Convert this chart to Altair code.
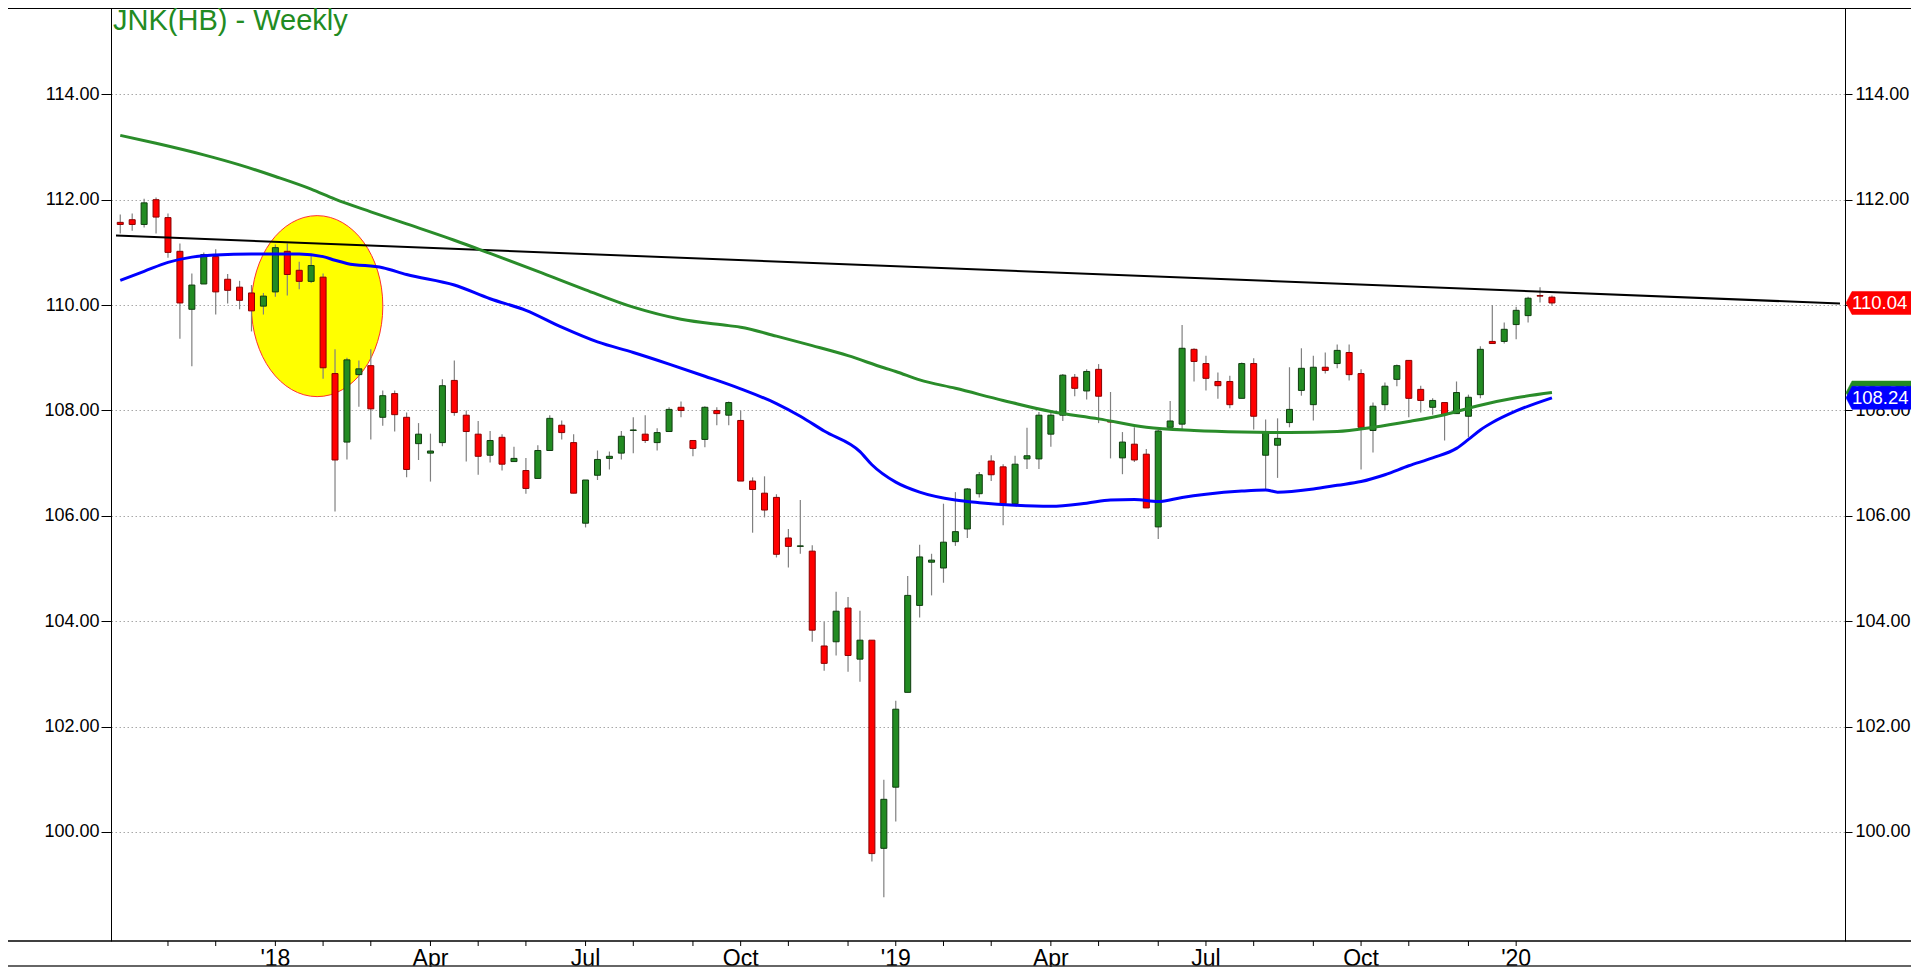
from datetime import date, datetime, timedelta, timezone

import altair as alt
import pandas as pd

# ---------------- data ----------------
first_week = date(2017, 10, 2)

opens = [111.57, 111.62, 111.53, 112.00, 111.66, 111.02, 109.92, 110.40, 110.92, 110.49,
         110.34, 110.23, 109.98, 110.25, 111.02, 110.66, 110.45, 110.53, 108.70, 107.40,
         108.68, 108.85, 107.87, 108.32, 107.87, 107.37, 107.19, 107.39, 108.57, 107.91,
         107.55, 107.15, 107.49, 107.03, 106.86, 106.71, 107.24, 107.72, 107.39, 105.86,
         106.77, 107.09, 107.19, 107.62, 107.55, 107.39, 107.60, 108.06, 107.43, 107.45,
         108.00, 107.91, 107.81, 106.66, 106.43, 106.35, 105.58, 105.42, 105.33, 103.53,
         103.61, 104.25, 103.28, 103.64, 99.69, 100.85, 102.65, 104.30, 105.12, 105.01,
         105.51, 105.75, 106.42, 107.04, 106.93, 106.23, 107.08, 107.08, 107.55, 107.91,
         108.63, 108.37, 108.78, 107.80, 107.10, 107.36, 107.17, 105.79, 107.68, 107.74,
         109.16, 108.89, 108.55, 108.55, 108.23, 108.89, 107.15, 107.34, 107.77, 108.38,
         108.11, 108.82, 108.89, 109.10, 108.70, 107.62, 108.11, 108.59, 108.95, 108.40,
         108.06, 108.15, 107.94, 107.89, 108.30, 109.31, 109.31, 109.63, 109.80, 110.18,
         110.15]

highs = [111.72, 111.74, 112.02, 112.04, 111.74, 111.17, 110.60, 111.00, 111.06, 110.59,
         110.46, 110.38, 110.23, 111.15, 111.17, 110.82, 110.93, 110.60, 109.16, 109.00,
         108.95, 109.16, 108.38, 108.38, 107.96, 107.76, 107.56, 108.59, 108.95, 108.00,
         107.80, 107.61, 107.55, 107.31, 107.10, 107.34, 107.91, 107.81, 107.55, 106.68,
         107.24, 107.22, 107.61, 107.87, 107.91, 107.66, 108.06, 108.17, 107.43, 108.08,
         108.06, 108.17, 108.00, 106.73, 106.75, 106.41, 105.75, 106.30, 105.44, 103.99,
         104.56, 104.46, 104.20, 103.64, 100.99, 102.49, 104.86, 105.45, 105.28, 106.23,
         106.45, 106.53, 106.83, 107.15, 106.98, 107.14, 107.67, 107.97, 107.97, 108.69,
         108.69, 108.78, 108.88, 108.35, 107.59, 107.68, 107.27, 107.63, 108.18, 109.62,
         109.18, 109.04, 108.72, 108.66, 108.91, 108.99, 107.83, 107.85, 108.82, 109.18,
         109.04, 109.10, 109.25, 109.25, 108.78, 108.15, 108.53, 108.87, 108.95, 108.47,
         108.23, 108.15, 108.55, 108.30, 109.22, 110.00, 109.67, 109.97, 110.16, 110.34,
         110.18]

lows = [111.36, 111.41, 111.47, 111.36, 110.90, 109.36, 108.84, 110.40, 109.82, 110.03,
        109.92, 109.50, 109.82, 110.16, 110.18, 110.30, 110.42, 108.60, 106.08, 107.07,
        108.07, 107.45, 107.71, 107.60, 106.73, 107.06, 106.65, 107.32, 107.90, 107.03,
        106.78, 107.01, 106.86, 107.03, 106.42, 106.71, 107.24, 107.45, 106.43, 105.78,
        106.68, 106.88, 107.07, 107.19, 107.38, 107.24, 107.60, 107.87, 107.13, 107.30,
        107.72, 107.72, 106.66, 105.68, 105.97, 105.21, 105.02, 105.28, 103.61, 103.06,
        103.35, 103.04, 102.85, 99.44, 98.76, 100.20, 102.65, 104.07, 104.49, 104.73,
        105.43, 105.58, 106.35, 106.66, 105.82, 106.23, 106.89, 106.89, 107.31, 107.80,
        108.27, 108.21, 107.76, 107.09, 106.79, 107.02, 106.15, 105.56, 107.68, 107.61,
        108.55, 108.38, 108.22, 108.04, 108.23, 107.64, 106.48, 106.72, 107.68, 108.28,
        107.81, 108.70, 108.80, 108.57, 106.88, 107.20, 108.00, 108.46, 107.87, 107.96,
        107.92, 107.43, 107.94, 107.49, 108.23, 109.27, 109.27, 109.35, 109.67, 110.05,
        109.99]

closes = [111.53, 111.53, 111.94, 111.67, 111.00, 110.04, 110.38, 110.96, 110.25, 110.28,
          110.09, 109.89, 110.17, 111.09, 110.58, 110.45, 110.75, 108.81, 107.06, 108.96,
          108.79, 108.03, 108.28, 107.92, 106.88, 107.55, 107.23, 108.47, 107.96, 107.60,
          107.13, 107.43, 106.98, 107.09, 106.52, 107.24, 107.85, 107.58, 106.43, 106.68,
          107.07, 107.13, 107.51, 107.63, 107.43, 107.58, 108.02, 108.00, 107.28, 108.06,
          107.94, 108.15, 106.66, 106.50, 106.11, 105.27, 105.42, 105.43, 103.83, 103.20,
          104.19, 103.35, 103.64, 99.59, 100.62, 102.33, 104.49, 105.22, 105.16, 105.50,
          105.70, 106.51, 106.78, 106.78, 106.23, 106.98, 107.14, 107.91, 107.91, 108.67,
          108.42, 108.74, 108.27, 107.78, 107.40, 107.06, 106.15, 107.61, 107.80, 109.18,
          108.93, 108.61, 108.47, 108.11, 108.89, 107.89, 107.58, 107.47, 108.02, 108.80,
          108.82, 108.76, 109.14, 108.68, 107.68, 108.08, 108.46, 108.85, 108.23, 108.19,
          108.19, 107.92, 108.34, 108.25, 109.16, 109.27, 109.54, 109.90, 110.13, 110.17,
          110.04]

# long moving average (green), read at these bar numbers
green_bar = [1, 4, 8, 11, 14, 17, 19, 22, 25, 29, 32, 36, 40, 44, 48, 52, 53, 56, 59, 62,
             65, 66, 68, 71, 75, 79, 83, 87, 91, 95, 99, 103, 106, 109, 112, 115, 118, 121]
green_ma = [113.22, 113.07, 112.85, 112.66, 112.44, 112.20, 112.01, 111.77, 111.54, 111.23,
            110.98, 110.64, 110.29, 109.96, 109.73, 109.61, 109.58, 109.41, 109.23, 109.04,
            108.81, 108.74, 108.58, 108.42, 108.19, 107.98, 107.84, 107.68, 107.62, 107.59,
            107.58, 107.60, 107.68, 107.79, 107.92, 108.10, 108.24, 108.34]

# shorter moving average (blue)
blue_bar = [1, 3, 5, 7, 9, 12, 16, 18, 19, 20, 23, 25, 29, 32, 35, 38, 41, 44, 47, 50,
            53, 56, 58, 60, 63, 64, 66, 68, 71, 73, 76, 79, 82, 84, 86, 88, 90, 92, 95, 97,
            98, 101, 103, 105, 107, 109, 111, 113, 114, 115, 116, 118, 121]
blue_ma = [110.47, 110.64, 110.81, 110.91, 110.95, 110.97, 110.97, 110.92, 110.85, 110.79,
           110.71, 110.58, 110.38, 110.12, 109.90, 109.58, 109.30, 109.10, 108.88, 108.65,
           108.41, 108.13, 107.89, 107.61, 107.22, 106.97, 106.64, 106.45, 106.30, 106.25,
           106.20, 106.18, 106.24, 106.30, 106.31, 106.27, 106.35, 106.41, 106.47, 106.49,
           106.45, 106.51, 106.58, 106.65, 106.78, 106.95, 107.10, 107.28, 107.45, 107.63,
           107.77, 107.99, 108.24]

# black resistance trend line (two end points)
trend_dates = ["2017-09-29T12:00:00Z", "2020-07-07T00:00:00Z"]
trend_values = [111.32, 110.03]

# yellow highlight ellipse centre
ellipse_date = ["2018-01-25T12:00:00Z"]
ellipse_value = [109.98]

# axis ticks
y_ticks = [100, 102, 104, 106, 108, 110, 112, 114]
month_ticks = [(2017, 11), (2017, 12)] + [(2018, m) for m in range(1, 13)] + \
              [(2019, m) for m in range(1, 13)] + [(2020, 1)]
quarter_months = [(2018, 1), (2018, 4), (2018, 7), (2018, 10),
                  (2019, 1), (2019, 4), (2019, 7), (2019, 10), (2020, 1)]
quarter_labels = ["'18", "Apr", "Jul", "Oct", "'19", "Apr", "Jul", "Oct", "'20"]

title_text = "JNK(HB) - Weekly"

# ---------------- helpers ----------------
def bar_date_of_month(y, m):
    d = date(y, m, 1)
    while d.weekday() >= 5:
        d += timedelta(days=1)
    return d - timedelta(days=d.weekday())


def ms(d):
    return int(datetime(d.year, d.month, d.day, tzinfo=timezone.utc).timestamp() * 1000)


week_dates = [first_week + timedelta(days=7 * i) for i in range(len(closes))]
date_str = [d.isoformat() for d in week_dates]

candles = pd.DataFrame({"date": date_str, "open": opens, "high": highs,
                        "low": lows, "close": closes})
green_df = pd.DataFrame({"date": [date_str[i - 1] for i in green_bar], "v": green_ma})
blue_df = pd.DataFrame({"date": [date_str[i - 1] for i in blue_bar], "v": blue_ma})
trend_df = pd.DataFrame({"date": trend_dates, "v": trend_values})
ellipse_df = pd.DataFrame({"date": ellipse_date, "v": ellipse_value})
minor_df = pd.DataFrame({"date": [bar_date_of_month(y, m).isoformat() for y, m in month_ticks]})
quarter_df = pd.DataFrame({"date": [bar_date_of_month(y, m).isoformat() for y, m in quarter_months],
                           "label": quarter_labels})
one = pd.DataFrame({"a": [0]})

quarter_ms = [ms(bar_date_of_month(y, m)) for y, m in quarter_months]

# ---------------- layout / style ----------------
W, H = 1734, 933
PAD_BOTTOM = 26
FONT = "Liberation Sans, Arial, sans-serif"
NARROW = "Liberation Sans Narrow, Arial Narrow, Liberation Sans, sans-serif"
GREEN = "#228b22"
RED = "#ff0000"
BLUE = "#0000ff"
MA_GREEN = "#2a8c2a"
GRID = "#a8a8a8"

x_left = datetime(2017, 9, 29, 12, tzinfo=timezone.utc).timestamp() * 1000
x_right = datetime(2020, 7, 7, tzinfo=timezone.utc).timestamp() * 1000
xscale = alt.Scale(type="utc", domain=[x_left, x_right])
yscale = alt.Scale(domain=[97.931, 115.638], zero=False, nice=False)

x_axis = alt.Axis(values=quarter_ms, labels=False, tickSize=7, tickColor="black",
                  domain=False, grid=True, gridColor=GRID, gridDash=[1.5, 2.5], title=None)
left_axis = alt.Axis(orient="left", values=y_ticks, format=".2f", tickSize=10,
                     tickColor="black", domainColor="black", labelPadding=2,
                     labelFontSize=18, labelFont=FONT, labelColor="black", grid=True,
                     gridColor=GRID, gridDash=[1.5, 2.5], title=None)
right_axis = alt.Axis(orient="right", values=y_ticks, format=".2f", tickSize=7,
                      tickColor="black", domainColor="black", labelPadding=3,
                      labelFontSize=18, labelFont=FONT, labelColor="black", grid=False,
                      title=None)


def X(field="date", axis=None):
    return alt.X(f"{field}:T", scale=xscale, axis=axis)


def Y(field, axis=None):
    return alt.Y(f"{field}:Q", scale=yscale, axis=axis)


layers = []

# white band under the title (grid starts below it)
layers.append(alt.Chart(one).mark_rect(color="white").encode(
    x=alt.value(1), x2=alt.value(W - 1), y=alt.value(0), y2=alt.value(29)))

# yellow ellipse
ell_path = "M -65.7 0 A 65.7 90.5 0 1 0 65.7 0 A 65.7 90.5 0 1 0 -65.7 0 Z"
layers.append(alt.Chart(ellipse_df).mark_point(
    shape=ell_path, size=4, filled=True, fill="#ffff00", stroke="#ff3030",
    strokeWidth=1, opacity=1, fillOpacity=1).encode(x=X(), y=Y("v")))

# wicks (carry x axis and left y axis)
layers.append(alt.Chart(candles).mark_rule(color="#808080", strokeWidth=1.2).encode(
    x=X(axis=x_axis), y=Y("low", left_axis), y2="high:Q"))

# bodies (carry right y axis)
dir_scale_fill = alt.Scale(domain=["up", "down"], range=[GREEN, RED])
dir_scale_stroke = alt.Scale(domain=["up", "down"], range=["#0f3d0f", "#8a0000"])
layers.append(alt.Chart(candles).transform_calculate(
    dir="datum.close >= datum.open ? 'up' : 'down'").mark_bar(
    size=6, strokeWidth=1).encode(
    x=X(), y=Y("open", right_axis), y2="close:Q",
    fill=alt.Fill("dir:N", scale=dir_scale_fill, legend=None),
    stroke=alt.Stroke("dir:N", scale=dir_scale_stroke, legend=None)))

# trend line and moving averages
layers.append(alt.Chart(trend_df).mark_line(color="black", strokeWidth=2).encode(
    x=X(), y=Y("v")))
layers.append(alt.Chart(green_df).mark_line(color=MA_GREEN, strokeWidth=3,
                                            interpolate="monotone").encode(x=X(), y=Y("v")))
layers.append(alt.Chart(blue_df).mark_line(color=BLUE, strokeWidth=3,
                                           interpolate="monotone").encode(x=X(), y=Y("v")))

# monthly minor ticks
layers.append(alt.Chart(minor_df).mark_rule(color="black", strokeWidth=1).encode(
    x=X(), y=alt.value(H), y2=alt.value(H + 5)))

# quarter labels under the time axis
layers.append(alt.Chart(quarter_df).mark_text(
    align="center", baseline="top", fontSize=23, font=NARROW, color="black").encode(
    x=X(), y=alt.value(H + 7), text="label:N"))

# frame lines spanning the whole window width
layers.append(alt.Chart(one).mark_rule(color="black", strokeWidth=1.5).encode(
    x=alt.value(-103), x2=alt.value(W + 66), y=alt.value(H)))
layers.append(alt.Chart(one).mark_rule(color="black", strokeWidth=1).encode(
    x=alt.value(-103), x2=alt.value(W + 66), y=alt.value(0.5)))
layers.append(alt.Chart(one).mark_rule(color="#333333", strokeWidth=1.5).encode(
    x=alt.value(-103), x2=alt.value(W + 66), y=alt.value(H + PAD_BOTTOM - 1)))

# last-value flags on the right axis
flag_path = "M 0 0 L 6 -11.5 L 90 -11.5 L 90 11.5 L 6 11.5 Z"
for val, col in [(green_ma[-1], GREEN), (blue_ma[-1], BLUE), (closes[-1], RED)]:
    fdf = pd.DataFrame({"v": [val], "label": [f"{val:.2f}"]})
    layers.append(alt.Chart(fdf).mark_point(
        shape=flag_path, size=4, filled=True, fill=col, stroke=col, strokeWidth=0.5,
        opacity=1, fillOpacity=1).encode(x=alt.value(W + 1), y=Y("v")))
    layers.append(alt.Chart(fdf).mark_text(
        align="left", baseline="middle", fontSize=18.5, font=FONT, color="white").encode(
        x=alt.value(W + 7), y=Y("v"), text="label:N"))

# title inside the plot
layers.append(alt.Chart(one).mark_text(
    text=title_text, align="left", baseline="alphabetic", fontSize=29, font=FONT,
    color=GREEN).encode(x=alt.value(2), y=alt.value(22)))

chart = alt.layer(*layers).resolve_axis(y="independent").properties(
    width=W, height=H,
    padding={"left": 103, "top": 0, "right": 66, "bottom": PAD_BOTTOM},
    autosize=alt.AutoSizeParams(type="none"),
    background="white",
).configure_view(stroke=None)

chart.save("out.html", embed_options={"renderer": "svg", "actions": False})
